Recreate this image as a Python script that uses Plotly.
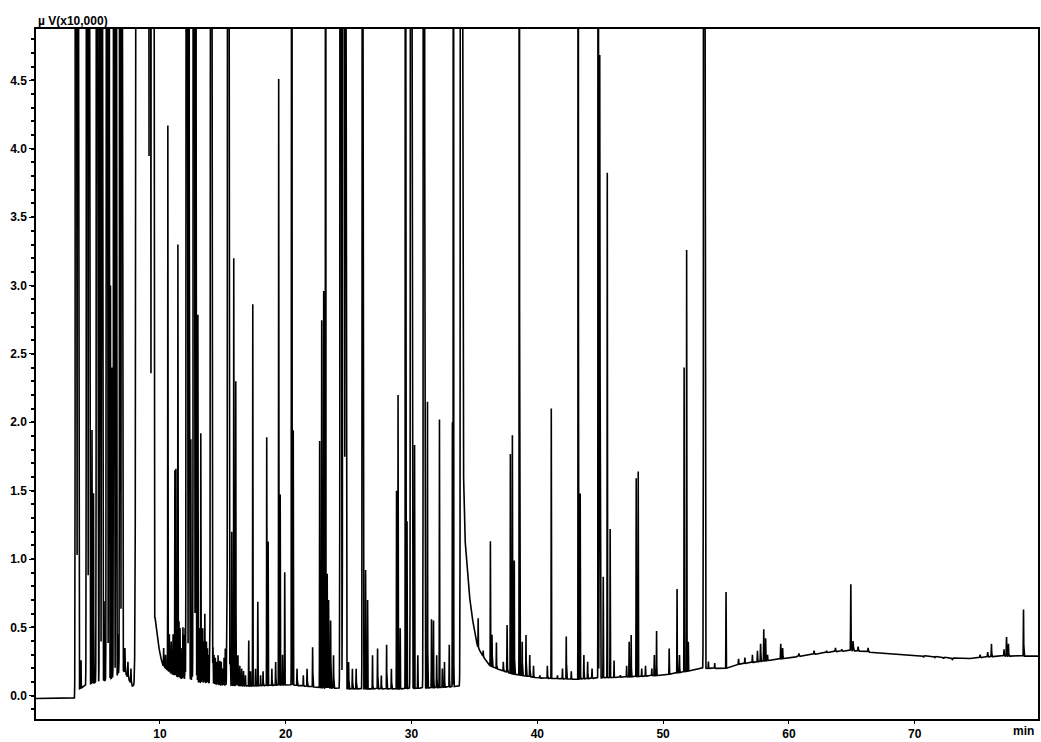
import numpy as np
import plotly.graph_objects as go

# Baseline (drift) knots: time (min), signal (x10,000 uV)
base_t = [0.15, 3.25, 3.6, 4.2, 5.0, 6.0, 6.6, 6.95, 7.3, 7.8, 8.0, 9.5, 9.6, 10.0, 10.25,
          10.8, 11.6, 13.2, 15.0, 17.1, 20.3, 22.7, 25.1, 29.0, 32.2, 33.9, 34.05, 34.2,
          34.45, 34.7, 35.0, 35.25, 35.6, 36.2, 37.0, 38.0, 40.0, 43.0, 45.0, 48.0, 50.0,
          52.0, 53.0, 55.0, 56.0, 59.4, 63.4, 65.0, 67.4, 71.3, 74.0, 76.7, 79.8]
base_v = [-0.02, -0.02, 0.05, 0.08, 0.10, 0.12, 0.15, 0.20, 0.16, 0.07, 0.07, 0.08, 0.58,
          0.30, 0.22, 0.17, 0.13, 0.10, 0.08, 0.07, 0.08, 0.06, 0.05, 0.05, 0.06, 0.07,
          2.20, 1.22, 0.88, 0.65, 0.47, 0.36, 0.30, 0.22, 0.19, 0.16, 0.13, 0.12, 0.13,
          0.14, 0.15, 0.18, 0.20, 0.20, 0.23, 0.27, 0.32, 0.33, 0.31, 0.29, 0.27, 0.29, 0.29]

# Peaks: retention time (min), apex signal (x10,000 uV; >4.9 = off scale), peak sigma (min)
peak_rt = [
    3.33, 3.49, 3.73, 4.21, 4.37, 4.60, 4.72, 5.00, 5.24, 5.40, 5.56, 5.79, 5.95, 6.07, 6.19,
    6.35, 6.51, 6.67, 6.83, 6.98, 7.22, 7.46, 7.70, 8.53, 9.05, 9.21, 9.37, 9.48,
    10.30, 10.45, 10.63, 10.75, 10.90, 11.05, 11.19, 11.27, 11.43, 11.52, 11.60, 11.75,
    11.83, 11.90, 12.00, 12.14, 12.30, 12.38, 12.46, 12.55, 12.70, 12.85, 12.95, 13.02,
    13.12, 13.25, 13.33, 13.40, 13.50, 13.57, 13.70, 13.78, 13.85, 13.95, 14.08, 14.22,
    14.30, 14.40, 14.50, 14.62, 14.76, 14.88, 15.00, 15.10, 15.20, 15.30, 15.44, 15.58,
    15.71, 15.87, 16.03, 16.12, 16.20, 16.35, 16.50, 16.65, 16.80, 17.06, 17.20, 17.38,
    17.60, 17.78, 18.00, 18.20, 18.49, 18.60, 18.90, 19.20, 19.44, 19.56, 19.75, 19.92,
    20.48, 20.60, 20.90, 21.40, 21.70, 22.14, 22.70, 22.86, 23.02, 23.17, 23.30, 23.41,
    23.57, 23.80, 24.37, 24.60, 24.76, 25.00, 25.30, 25.60, 26.11, 26.35, 26.51, 26.90,
    27.30, 27.60, 28.02, 28.40, 28.81, 28.93, 29.10, 29.52, 29.64, 29.98, 30.24, 30.50,
    30.99, 31.27, 31.59, 31.75, 32.00, 32.22, 32.45, 32.62, 33.00, 33.25, 33.33, 33.97,
    35.30, 35.70, 36.27, 36.40, 36.75, 37.30, 37.60, 37.86, 38.02, 38.17, 38.57, 38.80,
    39.10, 39.40, 39.70, 40.20, 40.80, 41.11, 41.60, 42.00, 42.30, 42.70, 43.25, 43.41,
    43.70, 44.00, 44.35, 44.84, 44.96, 45.24, 45.56, 45.79, 46.10, 46.60, 47.10, 47.30,
    47.46, 47.86, 48.02, 48.30, 48.60, 49.10, 49.30, 49.48, 50.48, 51.11, 51.30, 51.67,
    51.87, 52.00, 53.27, 53.60, 54.10, 55.00,
    56.00, 56.50, 57.10, 57.50, 57.75, 58.00, 58.15, 58.30, 59.35, 59.50, 60.80, 61.50,
    62.00, 63.00, 63.70, 64.20, 64.92, 65.10, 65.50, 66.30, 69.10, 70.70, 71.60, 72.30,
    73.00, 75.20, 75.80, 76.10, 77.10, 77.30, 77.45, 78.65]
peak_h = [
    40, 30, 0.26, 30, 25, 1.97, 1.5, 30, 30, 20, 0.7, 25, 20, 3.0, 2.4,
    20, 15, 0.45, 20, 20, 0.35, 0.25, 0.2, 5000, 40, 40, 40, 30,
    0.35, 0.30, 4.17, 0.45, 0.40, 0.45, 1.65, 1.66, 3.30, 0.55, 0.50, 0.35,
    0.50, 0.45, 0.50, 30, 15, 0.55, 1.90, 0.60, 30, 15, 0.45, 2.84,
    0.50, 1.92, 0.45, 0.50, 0.40, 0.60, 0.40, 0.35, 0.30, 0.35, 30, 0.35,
    0.30, 0.28, 0.25, 0.30, 0.26, 0.25, 0.20, 0.28, 0.35, 0.30, 30, 0.35,
    1.20, 3.20, 2.30, 0.30, 0.30, 0.22, 0.20, 0.18, 0.15, 0.41, 0.18, 2.92,
    0.20, 0.70, 0.15, 0.18, 1.89, 1.15, 0.20, 0.25, 4.60, 1.50, 0.30, 0.92,
    20, 1.98, 0.20, 0.15, 0.20, 0.36, 1.90, 2.80, 3.00, 15, 0.90, 0.70,
    0.55, 0.30, 30, 40, 20, 0.25, 0.20, 0.20, 25, 0.92, 0.70, 0.30,
    0.35, 0.15, 0.38, 0.20, 1.50, 2.20, 0.50, 20, 1.30, 30, 1.87, 0.30,
    30, 2.15, 0.56, 0.55, 0.30, 2.06, 0.20, 0.25, 0.38, 2.00, 15, 60,
    0.57, 0.33, 1.13, 0.45, 0.39, 0.25, 0.52, 1.80, 1.94, 0.99, 20, 0.40,
    0.45, 0.30, 0.22, 0.15, 0.22, 2.10, 0.15, 0.20, 0.44, 0.18, 20, 1.48,
    0.30, 0.25, 0.20, 20, 4.70, 0.88, 3.90, 1.22, 0.26, 0.15, 0.22, 0.40,
    0.45, 1.62, 1.67, 0.20, 0.22, 0.20, 0.30, 0.48, 0.35, 0.78, 0.30, 2.40,
    3.26, 0.40, 40, 0.25, 0.24, 0.77,
    0.27, 0.28, 0.30, 0.33, 0.38, 0.49, 0.42, 0.30, 0.38, 0.35, 0.31, 0.30,
    0.33, 0.33, 0.35, 0.34, 0.82, 0.40, 0.36, 0.35, 0.30, 0.28, 0.28, 0.27,
    0.26, 0.30, 0.32, 0.38, 0.34, 0.43, 0.38, 0.63]
peak_sd = [
    0.03, 0.025, 0.01, 0.03, 0.025, 0.012, 0.012, 0.03, 0.025, 0.025, 0.012, 0.03, 0.02, 0.01, 0.012,
    0.025, 0.02, 0.012, 0.025, 0.025, 0.015, 0.015, 0.015, 0.12, 0.035, 0.03, 0.03, 0.03,
    0.012, 0.012, 0.01, 0.012, 0.012, 0.012, 0.012, 0.01, 0.01, 0.012, 0.012, 0.012,
    0.012, 0.012, 0.012, 0.03, 0.02, 0.012, 0.012, 0.012, 0.03, 0.02, 0.012, 0.01,
    0.012, 0.01, 0.012, 0.012, 0.012, 0.012, 0.012, 0.012, 0.012, 0.012, 0.035, 0.012,
    0.012, 0.012, 0.012, 0.012, 0.01, 0.012, 0.012, 0.012, 0.012, 0.012, 0.035, 0.012,
    0.012, 0.01, 0.012, 0.012, 0.012, 0.012, 0.012, 0.012, 0.012, 0.01, 0.012, 0.01,
    0.012, 0.01, 0.012, 0.012, 0.01, 0.01, 0.012, 0.012, 0.01, 0.01, 0.012, 0.01,
    0.015, 0.01, 0.012, 0.012, 0.012, 0.01, 0.01, 0.01, 0.012, 0.012, 0.015, 0.012,
    0.012, 0.012, 0.03, 0.035, 0.025, 0.012, 0.012, 0.012, 0.02, 0.01, 0.01, 0.012,
    0.012, 0.012, 0.01, 0.012, 0.01, 0.01, 0.012, 0.012, 0.01, 0.035, 0.01, 0.012,
    0.03, 0.01, 0.012, 0.01, 0.012, 0.01, 0.012, 0.01, 0.01, 0.01, 0.012, 0.04,
    0.01, 0.012, 0.01, 0.01, 0.01, 0.012, 0.015, 0.01, 0.01, 0.01, 0.01, 0.01,
    0.01, 0.012, 0.012, 0.012, 0.012, 0.01, 0.012, 0.012, 0.01, 0.012, 0.01, 0.012,
    0.012, 0.012, 0.012, 0.012, 0.025, 0.012, 0.01, 0.01, 0.01, 0.012, 0.012, 0.01,
    0.01, 0.01, 0.01, 0.012, 0.012, 0.012, 0.012, 0.01, 0.01, 0.01, 0.012, 0.01,
    0.01, 0.01, 0.03, 0.012, 0.012, 0.01,
    0.015, 0.015, 0.015, 0.015, 0.015, 0.012, 0.015, 0.015, 0.015, 0.015, 0.02, 0.02,
    0.02, 0.02, 0.02, 0.02, 0.015, 0.02, 0.02, 0.02, 0.02, 0.02, 0.02, 0.02,
    0.02, 0.02, 0.02, 0.015, 0.015, 0.015, 0.015, 0.012]

y_ticks = [0.0, 0.5, 1.0, 1.5, 2.0, 2.5, 3.0, 3.5, 4.0, 4.5]
x_ticks = [10, 20, 30, 40, 50, 60, 70]

# Build trace: drift + sum of peaks
t = np.arange(0.15, 79.8, 0.004)
signal = np.interp(t, base_t, base_v)
for rt, h, sd in zip(peak_rt, peak_h, peak_sd):
    amp = h - float(np.interp(rt, base_t, base_v))
    lo, hi = np.searchsorted(t, [rt - 8 * sd, rt + 8 * sd])
    signal[lo:hi] += amp * np.exp(-0.5 * ((t[lo:hi] - rt) / sd) ** 2)

fig = go.Figure(go.Scatter(x=t, y=signal, mode="lines",
                           line=dict(color="black", width=1.6),
                           hoverinfo="skip", showlegend=False))

font_fam = "Liberation Sans, Arial, sans-serif"
tick_font = dict(family=font_fam, size=12, color="black", weight="bold")

fig.update_layout(
    width=1041, height=742,
    margin=dict(l=36, r=1, t=29, b=20),
    paper_bgcolor="white", plot_bgcolor="white",
    showlegend=False,
    xaxis=dict(range=[0.15, 79.8], tickmode="array", tickvals=x_ticks,
               ticktext=[str(v) for v in x_ticks],
               ticks="outside", ticklen=3, tickcolor="black",
               showline=True, linecolor="black", linewidth=1.5, mirror=True,
               showgrid=False, zeroline=False, tickfont=tick_font),
    yaxis=dict(range=[-0.17, 4.876], tickmode="array", tickvals=y_ticks,
               ticktext=[f"{v:.1f}" for v in y_ticks],
               ticks="outside", ticklen=5, tickcolor="black",
               minor=dict(tickmode="linear", tick0=0, dtick=0.1, ticks="outside",
                          ticklen=3, tickcolor="black", tickwidth=1.5),
               showline=True, linecolor="black", linewidth=1.5, mirror=True,
               showgrid=False, zeroline=False, tickfont=tick_font),
    annotations=[
        dict(text="µ V(x10,000)", xref="paper", yref="paper", x=0, y=1,
             xanchor="left", yanchor="bottom", showarrow=False, xshift=0, yshift=-1,
             font=dict(family=font_fam, size=12, color="black", weight="bold")),
        dict(text="min", xref="paper", yref="paper", x=1, y=0,
             xanchor="right", yanchor="top", showarrow=False, xshift=-2, yshift=-3,
             font=dict(family=font_fam, size=12, color="black", weight="bold")),
    ],
)

fig.write_html("out.html", config={"displayModeBar": False},
               post_script="document.body.style.margin='0';document.body.style.overflow='hidden';")
